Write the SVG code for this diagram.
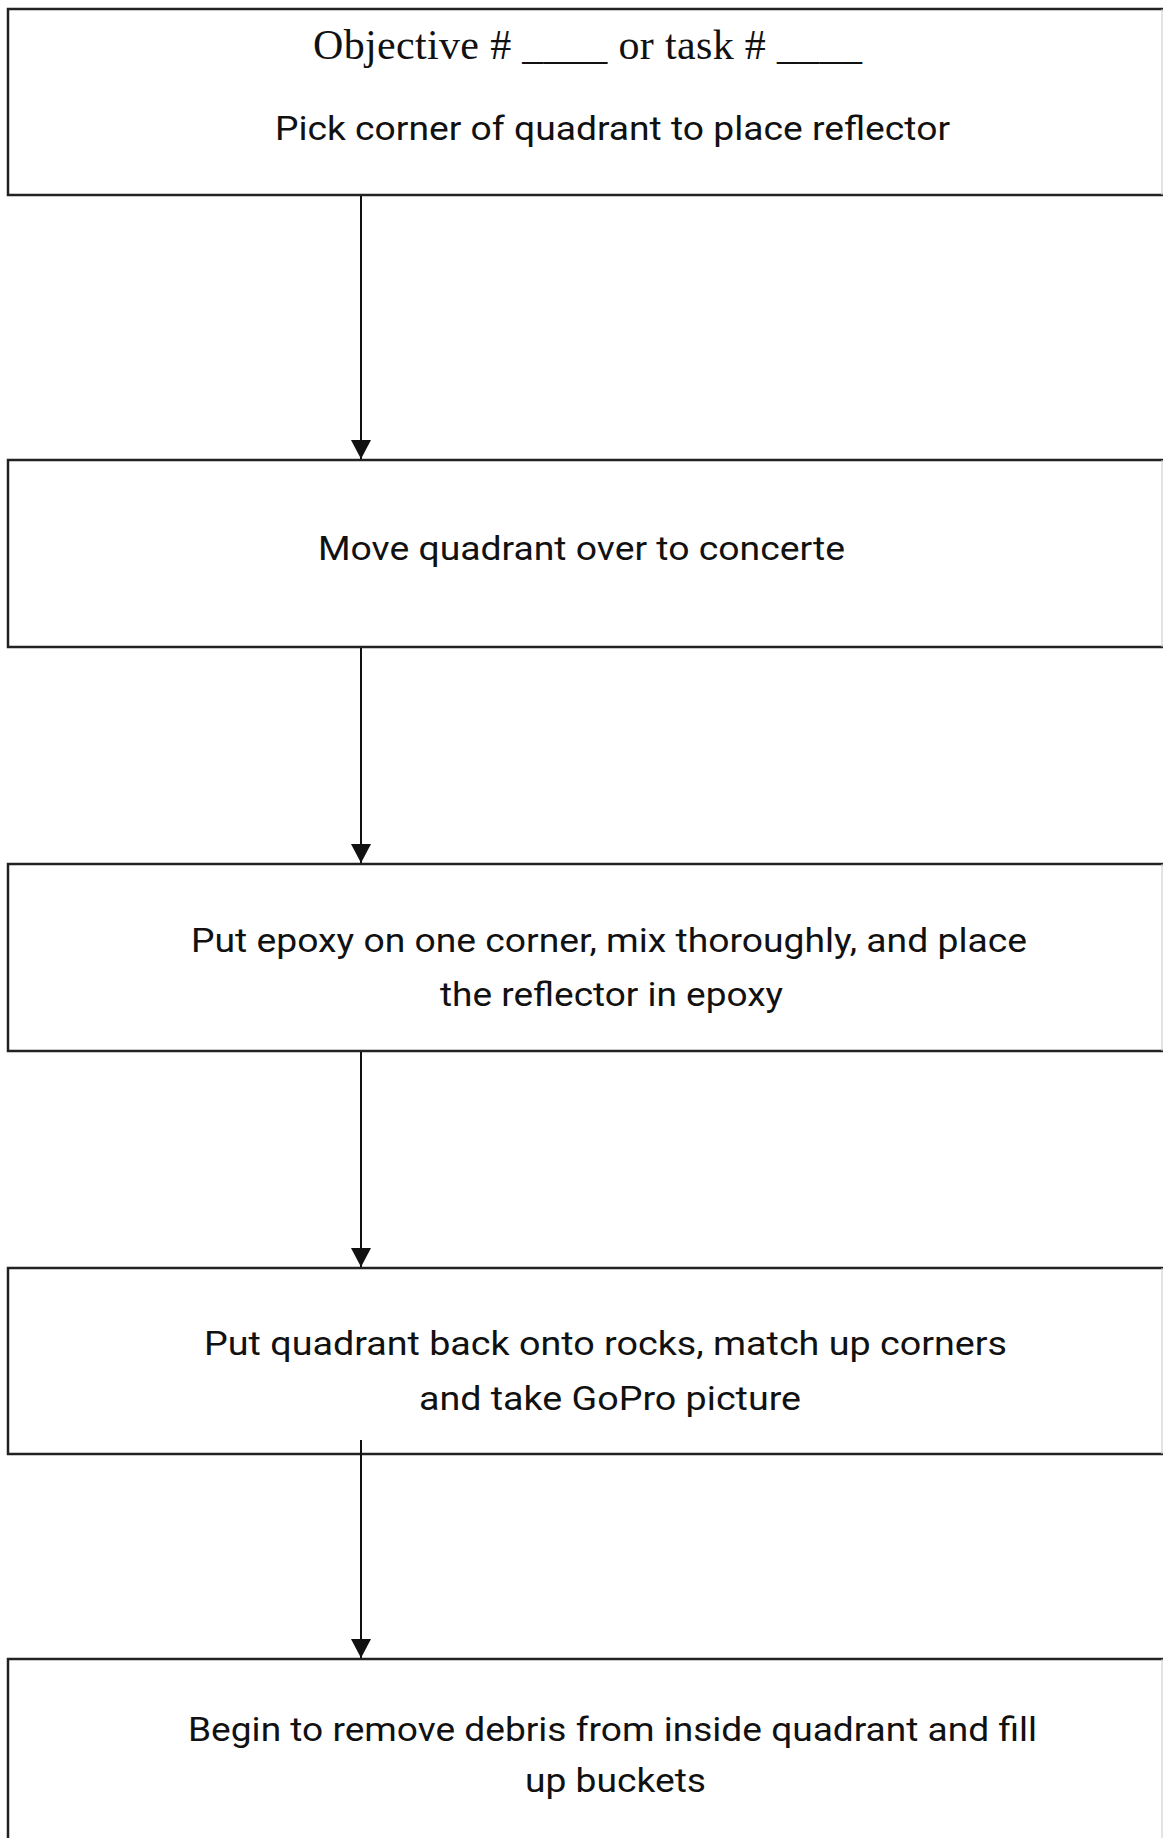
<svg xmlns="http://www.w3.org/2000/svg" width="1163" height="1838" viewBox="0 0 1163 1838">
  <style>
    .box { fill: #ffffff; stroke: #222222; stroke-width: 2.5; }
    .edge { stroke: #c8c8c8; stroke-width: 1; }
    .lbl { font-family: Roboto, "Liberation Sans", sans-serif; font-size: 34px; fill: #111111; }
    .serif { font-family: "Liberation Serif", "Times New Roman", serif; font-size: 42px; fill: #111111; }
    .conn { stroke: #111111; stroke-width: 2; fill: none; marker-end: url(#arrow); }
  </style>
  <defs>
    <marker id="arrow" viewBox="0 0 19 20" refX="19" refY="10" markerWidth="19" markerHeight="20" markerUnits="userSpaceOnUse" orient="auto">
      <path d="M0,0 L19,10 L0,20 z" fill="#111111"/>
    </marker>
  </defs>
  <rect x="0" y="0" width="1163" height="1838" fill="#ffffff"/>

  <g id="node1">
    <rect class="box" x="8" y="9" width="1162" height="186"/>
    <line class="edge" x1="1162" y1="9" x2="1162" y2="195"/>
    <text class="serif" x="313" y="59" textLength="549" lengthAdjust="spacing">Objective # ____ or task # ____</text>
    <text class="lbl" x="275" y="140" textLength="675" lengthAdjust="spacingAndGlyphs">Pick corner of quadrant to place reflector</text>
  </g>

  <g id="node2">
    <rect class="box" x="8" y="460" width="1162" height="187"/>
    <line class="edge" x1="1162" y1="460" x2="1162" y2="647"/>
    <text class="lbl" x="318" y="560" textLength="527" lengthAdjust="spacingAndGlyphs">Move quadrant over to concerte</text>
  </g>

  <g id="node3">
    <rect class="box" x="8" y="864" width="1162" height="187"/>
    <line class="edge" x1="1162" y1="864" x2="1162" y2="1051"/>
    <text class="lbl" x="191" y="952" textLength="836" lengthAdjust="spacingAndGlyphs">Put epoxy on one corner, mix thoroughly, and place</text>
    <text class="lbl" x="440" y="1006" textLength="343" lengthAdjust="spacingAndGlyphs">the reflector in epoxy</text>
  </g>

  <g id="node4">
    <rect class="box" x="8" y="1268" width="1162" height="186"/>
    <line class="edge" x1="1162" y1="1268" x2="1162" y2="1454"/>
    <text class="lbl" x="204" y="1355" textLength="803" lengthAdjust="spacingAndGlyphs">Put quadrant back onto rocks, match up corners</text>
    <text class="lbl" x="419" y="1410" textLength="382" lengthAdjust="spacingAndGlyphs">and take GoPro picture</text>
  </g>

  <g id="node5">
    <rect class="box" x="8" y="1659" width="1162" height="200"/>
    <line class="edge" x1="1162" y1="1659" x2="1162" y2="1838"/>
    <text class="lbl" x="188" y="1741" textLength="849" lengthAdjust="spacingAndGlyphs">Begin to remove debris from inside quadrant and fill</text>
    <text class="lbl" x="525" y="1792" textLength="181" lengthAdjust="spacingAndGlyphs">up buckets</text>
  </g>

  <g id="connectors">
    <line class="conn" x1="361" y1="196" x2="361" y2="459"/>
    <line class="conn" x1="361" y1="648" x2="361" y2="863"/>
    <line class="conn" x1="361" y1="1052" x2="361" y2="1267"/>
    <line class="conn" x1="361" y1="1440" x2="361" y2="1658"/>
  </g>
</svg>
